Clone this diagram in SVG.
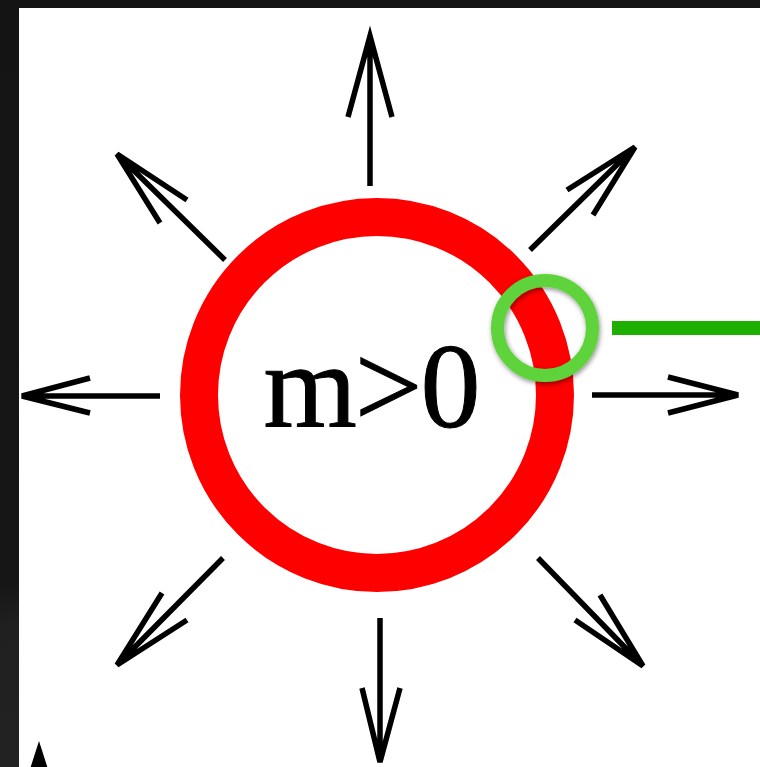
<svg xmlns="http://www.w3.org/2000/svg" width="760" height="767" viewBox="0 0 760 767">
<defs>
<linearGradient id="bg" x1="0" y1="0" x2="0.3" y2="1">
<stop offset="0" stop-color="#141414"/>
<stop offset="0.7" stop-color="#161616"/>
<stop offset="0.75" stop-color="#202020"/>
<stop offset="1" stop-color="#232323"/>
</linearGradient>
<filter id="sh" x="-30%" y="-30%" width="160%" height="160%">
<feDropShadow dx="1" dy="2" stdDeviation="2.5" flood-color="#000" flood-opacity="0.45"/>
</filter>
<style>
.arr{fill:none;stroke:#000;stroke-width:5.5;stroke-linecap:butt;stroke-linejoin:miter}
.lbl{font-family:"Liberation Serif","Times New Roman",serif;font-size:120px;fill:#000;stroke:#000;stroke-width:1}
</style>
</defs>
<rect x="0" y="0" width="760" height="767" fill="url(#bg)"/>
<rect x="19" y="8" width="741" height="759" fill="#fff"/>
<g id="connectors">
<path class="arr" d="M370,186 L370,36 M348,117 L370,36 L392,117"/>
<path class="arr" d="M380,618 L380,762 M362,688 L380,762 L400,688"/>
<path class="arr" d="M160,396 L22,396 M90,378 L22,396 L90,413"/>
<path class="arr" d="M592,395 L738,395 M668,377 L738,395 L668,413"/>
<path class="arr" d="M225,260 L117,154 M187,200 L117,154 L160,223"/>
<path class="arr" d="M530,250 L635,147 M567,190 L635,147 L593,215"/>
<path class="arr" d="M223,558 L117,665 M162,593 L117,665 L187,620"/>
<path class="arr" d="M538,558 L643,666 M600,595 L643,666 L575,620"/>
<path class="arr" d="M39,790 L39,751 M31,775 L39,750 L47,775"/>
</g>
<g id="ring">
<circle cx="377" cy="395" r="178" fill="none" stroke="#ff0000" stroke-width="38"/>
<text class="lbl" x="371" y="427" text-anchor="middle" letter-spacing="-2">m&gt;0</text>
</g>
<g id="callout">
<circle cx="545" cy="328" r="47.5" fill="none" stroke="#5fd33a" stroke-width="13" filter="url(#sh)"/>
<rect x="612" y="321" width="148" height="14" fill="#1db000"/>
</g>
</svg>
